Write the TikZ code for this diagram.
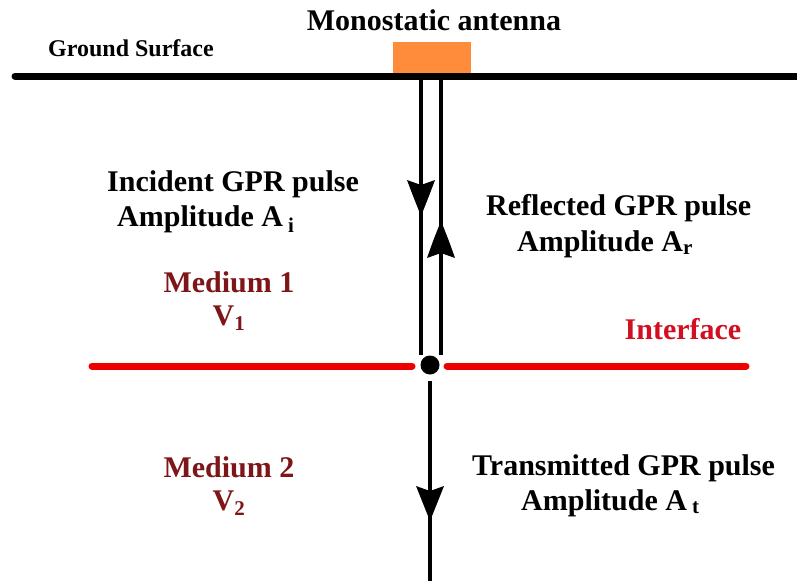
\documentclass[tikz,border=0pt]{standalone}
\usepackage{fontspec}
\setmainfont{Liberation Serif}
\definecolor{medred}{HTML}{7E1518}
\definecolor{ifred}{HTML}{D01020}
\definecolor{linered}{HTML}{EE0000}
\definecolor{antorange}{HTML}{FF8C3A}
\begin{document}
\begin{tikzpicture}[x=1pt,y=-1pt,
  lbl/.style={font=\fontsize{30}{36}\selectfont\bfseries, inner sep=0pt},
  sublbl/.style={font=\fontsize{24}{28}\selectfont\bfseries, inner sep=0pt},
  medlbl/.style={lbl, text=medred, align=center},
  ray/.style={line width=4.5pt},
  headfill/.style={fill=black}
]
\useasboundingbox (0,0) rectangle (797,581);
% ground
\coordinate (gl) at (15,76);
\coordinate (gr) at (797,76);
\draw[line width=7pt, line cap=round] (gl) -- (gr);
\node[sublbl, anchor=west] (ground) at (48,48) {Ground Surface};
% antenna
\node[fill=antorange, minimum width=78pt, minimum height=31pt, inner sep=0pt, anchor=south] (ant) at (432,73) {};
\node[lbl] (title) at (434,20) {Monostatic antenna};
% interface
\coordinate (il) at (92,366);
\coordinate (ilr) at (412,366);
\coordinate (irl) at (447,366);
\coordinate (ir) at (746,366);
\draw[linered, line width=7pt, line cap=round] (il) -- (ilr);
\draw[linered, line width=7pt, line cap=round] (irl) -- (ir);
\node[circle, fill=black, minimum size=19pt, inner sep=0pt] (dot) at (430,365) {};
% rays
\coordinate (inTop) at (421,80);
\coordinate (inBot) at (421,355);
\coordinate (reTop) at (441,80);
\coordinate (reBot) at (441,355);
\coordinate (trTop) at (430,381);
\coordinate (trBot) at (430,581);
\draw[ray] (inTop) -- (inBot);
\draw[ray] (reBot) -- (reTop);
\draw[ray] (trTop) -- (trBot);
% arrowheads
\fill[headfill] (421,216) .. controls (413,196) .. (407,180) -- (421,185) -- (435,180) .. controls (429,196) .. cycle;
\fill[headfill] (441,221) .. controls (449,241) .. (455,258) -- (441,253) -- (427,258) .. controls (433,241) .. cycle;
\fill[headfill] (430,521) .. controls (422,501) .. (416,486) -- (430,491) -- (444,486) .. controls (438,501) .. cycle;
% labels
\node[lbl, anchor=west] (inc) at (107,184) {Incident GPR pulse};
\node[lbl, anchor=west] (inca) at (117,219) {Amplitude A\,\textsubscript{i}};
\node[lbl, anchor=west] (ref) at (486,208) {Reflected GPR pulse};
\node[lbl, anchor=west] (refa) at (517,244) {Amplitude A\textsubscript{r}};
\node[lbl, anchor=west] (tr) at (472,468) {Transmitted GPR pulse};
\node[lbl, anchor=west] (tra) at (521,503) {Amplitude A\,\textsubscript{t}};
\node[medlbl] (m1) at (229,282) {Medium 1};
\node[medlbl] (v1) at (229,318) {V\textsubscript{1}};
\node[medlbl] (m2) at (229,467) {Medium 2};
\node[medlbl] (v2) at (229,503) {V\textsubscript{2}};
\node[lbl, text=ifred] (iface) at (683,329) {Interface};
\end{tikzpicture}
\end{document}
